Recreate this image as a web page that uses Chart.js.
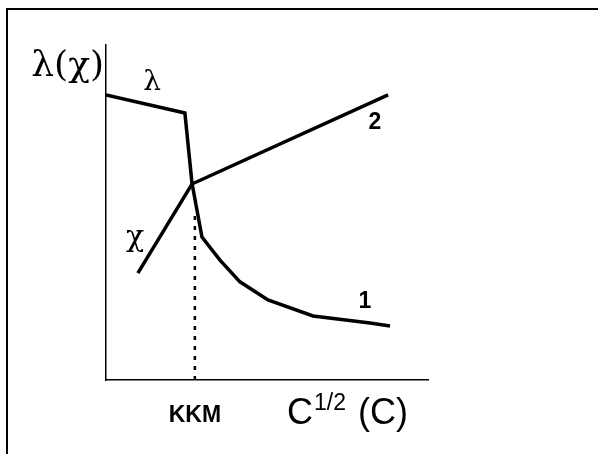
<!DOCTYPE html>
<html>
<head>
<meta charset="utf-8">
<script src="https://cdn.jsdelivr.net/npm/chart.js@4.4.0/dist/chart.umd.min.js"></script>
<style>
  html, body { margin: 0; padding: 0; background: #fff; }
  #wrap { position: relative; width: 598px; height: 454px; overflow: hidden; }
  #frame { position: absolute; left: 6px; top: 8px; right: -10px; bottom: -10px;
           border-top: 2px solid #000; border-left: 2px solid #000; pointer-events: none; }
  canvas { position: absolute; left: 0; top: 0; }
</style>
</head>
<body>
<div id="wrap">
  <canvas id="c" width="598" height="454"></canvas>
  <div id="frame"></div>
</div>
<script>
// ---- data (abstract units, x: 0..10, y: 0..10) ----
const lambdaX = [0, 2.45, 2.67, 2.98, 3.54, 4.16, 5.03, 6.43, 8.20, 8.82];
const lambdaY = [8.51, 7.97, 5.88, 4.27, 3.58, 2.93, 2.39, 1.91, 1.70, 1.61];
const chiX = [0.99, 2.67, 8.76];
const chiY = [3.19, 5.85, 8.51];
const cmcX = [2.76, 2.76];
const cmcY = [0, 5.0];
const xTickValues = [2.76];
const xTickLabels = ['KKM'];
const curveLabels = ['λ', 'χ', '1', '2'];
const curveLabelX = [1.43, 0.90, 8.04, 8.35];
const curveLabelY = [8.87, 4.24, 2.33, 7.67];

const toPts = (xs, ys) => xs.map((x, i) => ({ x, y: ys[i] }));

const SERIF = '"DejaVu Serif", serif';
const SANS = '"Liberation Sans", Arial, Helvetica, sans-serif';
const labelStyles = [
  { font: '28px ' + SERIF },
  { font: '30px ' + SERIF },
  { font: 'bold 23px ' + SANS },
  { font: 'bold 23px ' + SANS }
];

const textPlugin = {
  id: 'texts',
  afterDraw(chart) {
    const ctx = chart.ctx;
    const xs = chart.scales.x, ys = chart.scales.y;
    const area = chart.chartArea;
    ctx.save();
    ctx.fillStyle = '#000';
    ctx.textAlign = 'center';
    ctx.textBaseline = 'middle';
    curveLabels.forEach((t, i) => {
      ctx.font = labelStyles[i].font;
      ctx.fillText(t, xs.getPixelForValue(curveLabelX[i]), ys.getPixelForValue(curveLabelY[i]));
    });
    // y-axis title
    ctx.textAlign = 'right';
    ctx.textBaseline = 'alphabetic';
    ctx.font = '36px ' + SERIF;
    ctx.fillText('λ(χ)', area.left - 2, area.top + 31);
    // x-axis title with superscript
    ctx.textAlign = 'left';
    let x = xs.getPixelForValue(5.62);
    const base = area.bottom + 44;
    ctx.font = '36px ' + SANS;
    ctx.fillText('C', x, base);
    x += ctx.measureText('C').width + 1;
    ctx.font = '23px ' + SANS;
    ctx.fillText('1/2', x, base - 14);
    x += ctx.measureText('1/2').width + 2;
    ctx.font = '36px ' + SANS;
    ctx.fillText(' (C)', x, base);
    ctx.restore();
  }
};

new Chart(document.getElementById('c'), {
  type: 'line',
  data: {
    datasets: [
      { data: toPts(lambdaX, lambdaY), borderColor: '#000', borderWidth: 3.5, pointRadius: 0, tension: 0, fill: false },
      { data: toPts(chiX, chiY), borderColor: '#000', borderWidth: 3.5, pointRadius: 0, tension: 0, fill: false },
      { data: toPts(cmcX, cmcY), borderColor: '#000', borderWidth: 2.5, borderDash: [4, 6], pointRadius: 0, tension: 0, fill: false }
    ]
  },
  options: {
    responsive: false,
    animation: false,
    devicePixelRatio: 1,
    layout: { padding: { left: 106, right: 170, top: 45, bottom: 0 } },
    plugins: { legend: { display: false }, tooltip: { enabled: false } },
    scales: {
      x: {
        type: 'linear', min: 0, max: 10,
        grid: { display: false, drawTicks: false },
        border: { display: true, color: '#000', width: 1.5 },
        afterBuildTicks: (axis) => { axis.ticks = xTickValues.map(v => ({ value: v })); },
        ticks: {
          autoSkip: false, maxRotation: 0, padding: 22, color: '#000',
          font: { family: '"Liberation Sans", Arial, sans-serif', size: 23, weight: 'bold' },
          callback: (v, i) => xTickLabels[i]
        },
        afterFit: (axis) => { axis.height = 74; }
      },
      y: {
        type: 'linear', min: 0, max: 10,
        grid: { display: false, drawTicks: false },
        border: { display: true, color: '#000', width: 1.5 },
        ticks: { display: false },
        afterFit: (axis) => { axis.width = 0; }
      }
    }
  },
  plugins: [textPlugin]
});
</script>
</body>
</html>
